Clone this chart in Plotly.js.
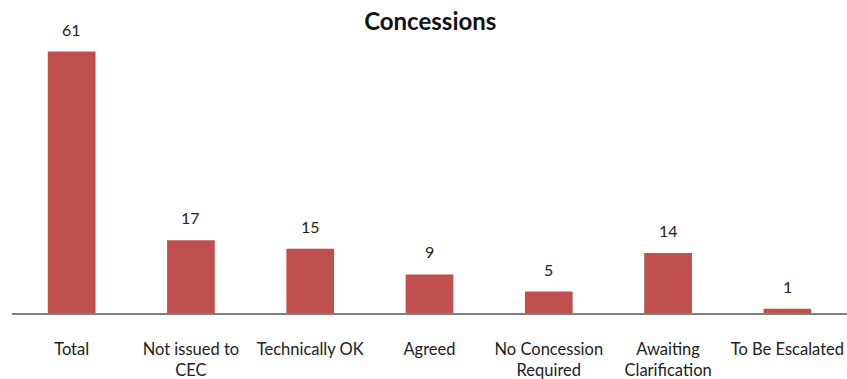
<!DOCTYPE html>
<html>
<head>
<meta charset="utf-8">
<script src="https://cdn.plot.ly/plotly-3.0.1.min.js"></script>
<style>html,body{margin:0;padding:0;background:#fff;}#chart{width:847px;height:379px;}</style>
</head>
<body>
<div id="chart"></div>
<script>
const categories = ["Total", "Not issued to<br>CEC", "Technically OK", "Agreed", "No Concession<br>Required", "Awaiting<br>Clarification", "To Be Escalated"];
const values = [61, 17, 15, 9, 5, 14, 1];
const barColor = "#C0504D";

const trace = {
  type: "bar",
  x: categories,
  y: values,
  marker: { color: barColor },
  hoverinfo: "none"
};

const annotations = categories.map((c, i) => ({
  x: c, y: values[i], text: String(values[i]),
  showarrow: false, yanchor: "bottom", yshift: 11,
  font: { family: "Lato, 'Open Sans', sans-serif", size: 16, color: "#222" }
}));

const layout = {
  width: 847, height: 379,
  margin: { l: 12, r: 0, t: 12.5, b: 65.5 },
  paper_bgcolor: "#fff", plot_bgcolor: "#fff",
  bargap: 0.6,
  showlegend: false,
  title: { text: "<b>Concessions</b>", x: 0.508, xanchor: "center", y: 0.942, yanchor: "middle",
           font: { family: "Lato, 'Open Sans', sans-serif", size: 24, color: "#111" } },
  xaxis: {
    type: "category",
    showline: true, linecolor: "#808080", linewidth: 2,
    ticks: "outside", ticklen: 20, tickcolor: "rgba(0,0,0,0)",
    tickfont: { family: "Lato, 'Open Sans', sans-serif", size: 16.5, color: "#222" },
    showgrid: false, zeroline: false, fixedrange: true
  },
  yaxis: {
    range: [0, 70], visible: false, showgrid: false, zeroline: false, fixedrange: true
  },
  annotations: annotations
};

Plotly.newPlot("chart", [trace], layout, { displayModeBar: false, staticPlot: true });
</script>
</body>
</html>
